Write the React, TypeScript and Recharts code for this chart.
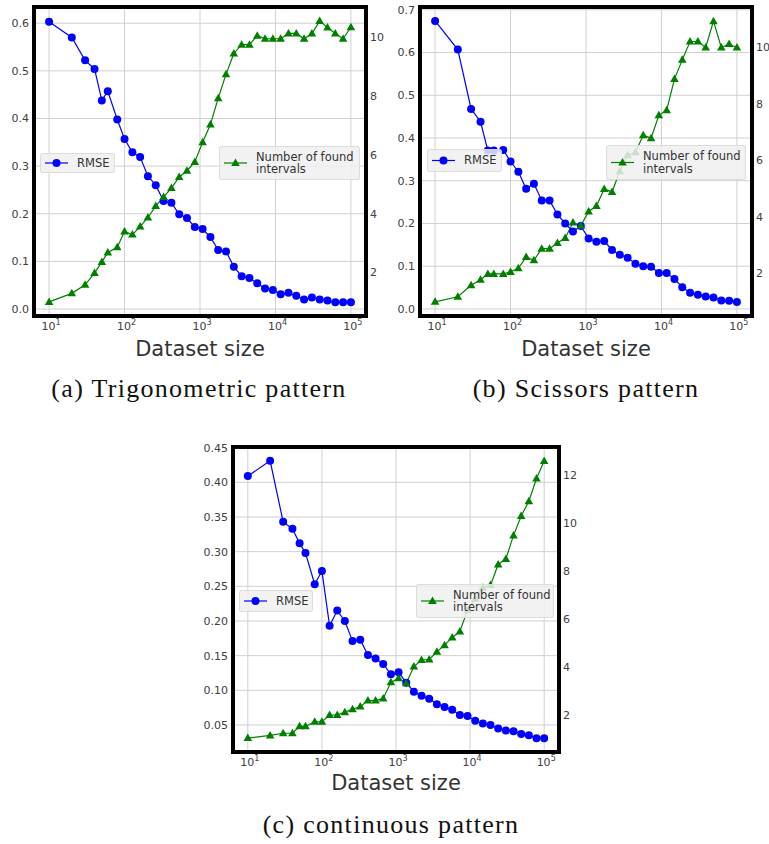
import React from "react";
import { CartesianGrid, ComposedChart, Line, XAxis, YAxis } from "recharts";

// dataset sizes shared by all three panels (log-spaced runs)
const sizes = [
  10, 20, 30, 40, 50, 60, 80, 100, 127, 161, 204, 259, 329, 418, 530, 672,
  853, 1083, 1374, 1743, 2212, 2807, 3562, 4520, 5736, 7279, 9237, 11721,
  14874, 18874, 23950, 30392, 38566, 48939, 62102, 78805, 100000,
];

const rmseTrig = [
  0.603, 0.57, 0.522, 0.504, 0.438, 0.457, 0.398, 0.357, 0.329, 0.319, 0.279,
  0.26, 0.227, 0.223, 0.199, 0.191, 0.172, 0.168, 0.151, 0.124, 0.121, 0.089,
  0.069, 0.065, 0.054, 0.043, 0.04, 0.031, 0.034, 0.028, 0.02, 0.024, 0.02,
  0.018, 0.014, 0.014, 0.014,
];
const intervalsTrig = [
  1.0, 1.29, 1.58, 1.98, 2.36, 2.68, 2.86, 3.39, 3.29, 3.56, 3.87, 4.26, 4.57,
  4.87, 5.25, 5.46, 5.76, 6.43, 7.03, 7.93, 8.74, 9.45, 9.75, 9.75, 10.05,
  9.95, 9.95, 9.95, 10.13, 10.13, 9.95, 10.13, 10.55, 10.33, 10.13, 9.95,
  10.34,
];

const rmseScissors = [
  0.674, 0.607, 0.468, 0.438, 0.371, 0.371, 0.372, 0.345, 0.321, 0.281, 0.293,
  0.254, 0.254, 0.221, 0.2, 0.181, 0.194, 0.165, 0.157, 0.159, 0.138, 0.127,
  0.12, 0.106, 0.1, 0.099, 0.084, 0.084, 0.07, 0.051, 0.038, 0.033, 0.029,
  0.027, 0.02, 0.019, 0.016,
];
const intervalsScissors = [
  1.0, 1.18, 1.59, 1.78, 1.99, 1.99, 1.99, 2.06, 2.19, 2.59, 2.47, 2.88, 2.88,
  3.08, 3.26, 3.81, 3.69, 4.2, 4.39, 4.99, 4.89, 5.62, 6.19, 6.29, 6.89, 6.79,
  7.6, 7.78, 8.88, 9.56, 10.21, 10.21, 10.0, 10.93, 10.0, 10.12, 10.0,
];

const rmseContinuous = [
  0.409, 0.431, 0.343, 0.333, 0.312, 0.298, 0.253, 0.272, 0.193, 0.215, 0.2,
  0.171, 0.173, 0.151, 0.146, 0.138, 0.123, 0.126, 0.111, 0.098, 0.092, 0.088,
  0.08, 0.076, 0.072, 0.0645, 0.063, 0.056, 0.052, 0.05, 0.045, 0.042, 0.041,
  0.037, 0.035, 0.031, 0.031,
];
const intervalsContinuous = [
  1.05, 1.16, 1.25, 1.25, 1.54, 1.54, 1.73, 1.73, 2.01, 2.01, 2.13, 2.25, 2.36,
  2.61, 2.61, 2.7, 3.37, 3.54, 3.33, 4.03, 4.3, 4.32, 4.64, 4.92, 5.24, 5.49,
  6.37, 6.85, 7.31, 7.42, 8.28, 8.51, 9.49, 10.3, 10.91, 11.86, 12.59,
];

const xTicks = [10, 100, 1000, 10000, 100000];
const leftTicksTrig = [0, 0.1, 0.2, 0.3, 0.4, 0.5, 0.6];
const leftTicksScissors = [0, 0.1, 0.2, 0.3, 0.4, 0.5, 0.6, 0.7];
const leftTicksContinuous = [0.05, 0.1, 0.15, 0.2, 0.25, 0.3, 0.35, 0.4, 0.45];
const rightTicksTen = [2, 4, 6, 8, 10];
const rightTicksTwelve = [2, 4, 6, 8, 10, 12];

const SANS = "'DejaVu Sans', sans-serif";
const SERIF = "'Liberation Serif', serif";
const BLUE = "#0000ff";
const GREEN = "#008000";
const TICK = "#404040";

type Box = { x: number; y: number; w: number; h: number };

type PanelProps = {
  plot: Box;
  rmse: number[];
  intervals: number[];
  leftDomain: [number, number];
  leftTicks: number[];
  leftDigits: number;
  rightDomain: [number, number];
  rightTicks: number[];
  rmseLegend: Box;
  intervalsLegend: Box;
  labelTop: number;
  caption: string;
  captionCenter: number;
  captionTop: number;
};

function Triangle(props: any) {
  const { cx, cy, index } = props;
  if (cx == null || cy == null) return <g key={index} />;
  return (
    <polygon
      key={index}
      points={`${cx},${cy - 4.5} ${cx - 4.3},${cy + 3} ${cx + 4.3},${cy + 3}`}
      fill={GREEN}
    />
  );
}

function LogTick(props: any) {
  const { x, y, payload } = props;
  const exp = Math.round(Math.log10(payload.value));
  return (
    <text x={x + 2} y={y + 14} textAnchor="middle" fontSize={11} fill={TICK} fontFamily={SANS}>
      10
      <tspan dy={-5} fontSize={8}>
        {exp}
      </tspan>
    </text>
  );
}

function LegendBox({ box, kind, lines }: { box: Box; kind: "circle" | "triangle"; lines: string[] }) {
  const cy = box.h / 2;
  const color = kind === "circle" ? BLUE : GREEN;
  return (
    <div
      style={{
        position: "absolute",
        left: box.x,
        top: box.y,
        width: box.w,
        height: box.h,
        background: "rgba(240,240,240,0.85)",
        border: "1px solid rgba(215,215,215,0.8)",
        borderRadius: 3,
        boxSizing: "border-box",
      }}
    >
      <svg width={box.w} height={box.h} style={{ position: "absolute", left: -1, top: -1 }}>
        <line x1={5} x2={28} y1={cy} y2={cy} stroke={color} strokeWidth={1.2} />
        {kind === "circle" ? (
          <circle cx={16.5} cy={cy} r={4} fill={color} />
        ) : (
          <polygon points={`16.5,${cy - 4.5} 12.2,${cy + 3} 20.8,${cy + 3}`} fill={color} />
        )}
      </svg>
      <div
        style={{
          position: "absolute",
          left: 36,
          top: (box.h - 2 - lines.length * 12.5) / 2,
          fontFamily: SANS,
          fontSize: 11.5,
          lineHeight: "12.5px",
          color: "#333",
          whiteSpace: "nowrap",
        }}
      >
        {lines.map((l) => (
          <div key={l}>{l}</div>
        ))}
      </div>
    </div>
  );
}

function Panel(p: PanelProps) {
  const data = sizes.map((n, i) => ({ n, rmse: p.rmse[i], intervals: p.intervals[i] }));
  const fmtLeft = (v: number) => v.toFixed(p.leftDigits);
  return (
    <>
      <div style={{ position: "absolute", left: p.plot.x - 40, top: p.plot.y - 10 }}>
        <ComposedChart
          width={p.plot.w + 70}
          height={p.plot.h + 40}
          data={data}
          margin={{ top: 10, right: 0, bottom: 0, left: 0 }}
        >
          <CartesianGrid yAxisId="left" stroke="#d0d0d0" strokeWidth={1} />
          <XAxis
            dataKey="n"
            type="number"
            scale="log"
            domain={[Math.pow(10, 0.8), Math.pow(10, 5.2)]}
            ticks={xTicks}
            allowDataOverflow
            axisLine={false}
            tickLine={false}
            tickSize={0}
            tickMargin={0}
            height={30}
            tick={<LogTick />}
            interval={0}
          />
          <YAxis
            yAxisId="left"
            orientation="left"
            type="number"
            domain={p.leftDomain}
            ticks={p.leftTicks}
            allowDataOverflow
            axisLine={false}
            tickLine={false}
            tickSize={0}
            tickMargin={5}
            width={40}
            interval={0}
            tickFormatter={fmtLeft}
            tick={{ fontSize: 11, fill: TICK, fontFamily: SANS }}
          />
          <YAxis
            yAxisId="right"
            orientation="right"
            type="number"
            domain={p.rightDomain}
            ticks={p.rightTicks}
            allowDataOverflow
            axisLine={false}
            tickLine={false}
            tickSize={0}
            tickMargin={4}
            width={30}
            interval={0}
            tick={{ fontSize: 11, fill: TICK, fontFamily: SANS }}
          />
          <Line
            yAxisId="left"
            dataKey="rmse"
            stroke={BLUE}
            strokeWidth={1.2}
            dot={{ r: 4, fill: BLUE, stroke: BLUE, strokeWidth: 0 }}
            activeDot={false}
            isAnimationActive={false}
          />
          <Line
            yAxisId="right"
            dataKey="intervals"
            stroke={GREEN}
            strokeWidth={1.2}
            dot={<Triangle />}
            activeDot={false}
            isAnimationActive={false}
          />
        </ComposedChart>
      </div>
      <div
        style={{
          position: "absolute",
          left: p.plot.x - 2,
          top: p.plot.y - 2,
          width: p.plot.w + 4,
          height: p.plot.h + 4,
          border: "4px solid #000",
          boxSizing: "border-box",
          pointerEvents: "none",
        }}
      />
      <LegendBox box={p.rmseLegend} kind="circle" lines={["RMSE"]} />
      <LegendBox box={p.intervalsLegend} kind="triangle" lines={["Number of found", "intervals"]} />
      <div
        style={{
          position: "absolute",
          left: p.plot.x + p.plot.w / 2 - 150,
          width: 300,
          top: p.labelTop,
          textAlign: "center",
          fontFamily: SANS,
          fontSize: 21,
          lineHeight: "21px",
          color: "#333",
        }}
      >
        Dataset size
      </div>
      <div
        style={{
          position: "absolute",
          left: p.captionCenter - 200,
          width: 400,
          top: p.captionTop,
          textAlign: "center",
          fontFamily: SERIF,
          fontSize: 26,
          lineHeight: "26px",
          letterSpacing: 1.3,
          color: "#111",
          whiteSpace: "nowrap",
        }}
      >
        {p.caption}
      </div>
    </>
  );
}

export default function App() {
  return (
    <div style={{ position: "absolute", left: 0, top: 0, width: 769, height: 844, background: "#fff" }}>
      <Panel
        plot={{ x: 34, y: 7, w: 332, h: 309 }}
        rmse={rmseTrig}
        intervals={intervalsTrig}
        leftDomain={[-0.0146, 0.634]}
        leftTicks={leftTicksTrig}
        leftDigits={1}
        rightDomain={[0.52, 11.03]}
        rightTicks={rightTicksTen}
        rmseLegend={{ x: 40, y: 153, w: 75, h: 20 }}
        intervalsLegend={{ x: 219, y: 146, w: 141, h: 34 }}
        labelTop={339}
        caption="(a) Trigonometric pattern"
        captionCenter={199}
        captionTop={376}
      />
      <Panel
        plot={{ x: 420, y: 7, w: 332, h: 309 }}
        rmse={rmseScissors}
        intervals={intervalsScissors}
        leftDomain={[-0.0165, 0.7065]}
        leftTicks={leftTicksScissors}
        leftDigits={1}
        rightDomain={[0.5, 11.43]}
        rightTicks={rightTicksTen}
        rmseLegend={{ x: 427, y: 149, w: 75, h: 23 }}
        intervalsLegend={{ x: 606, y: 145, w: 140, h: 35 }}
        labelTop={339}
        caption="(b) Scissors pattern"
        captionCenter={586}
        captionTop={376}
      />
      <Panel
        plot={{ x: 233, y: 447, w: 326, h: 305 }}
        rmse={rmseContinuous}
        intervals={intervalsContinuous}
        leftDomain={[0.011, 0.451]}
        leftTicks={leftTicksContinuous}
        leftDigits={2}
        rightDomain={[0.47, 13.17]}
        rightTicks={rightTicksTwelve}
        rmseLegend={{ x: 239, y: 590, w: 74, h: 22 }}
        intervalsLegend={{ x: 416, y: 584, w: 138, h: 34 }}
        labelTop={773}
        caption="(c) continuous pattern"
        captionCenter={391}
        captionTop={812}
      />
    </div>
  );
}
